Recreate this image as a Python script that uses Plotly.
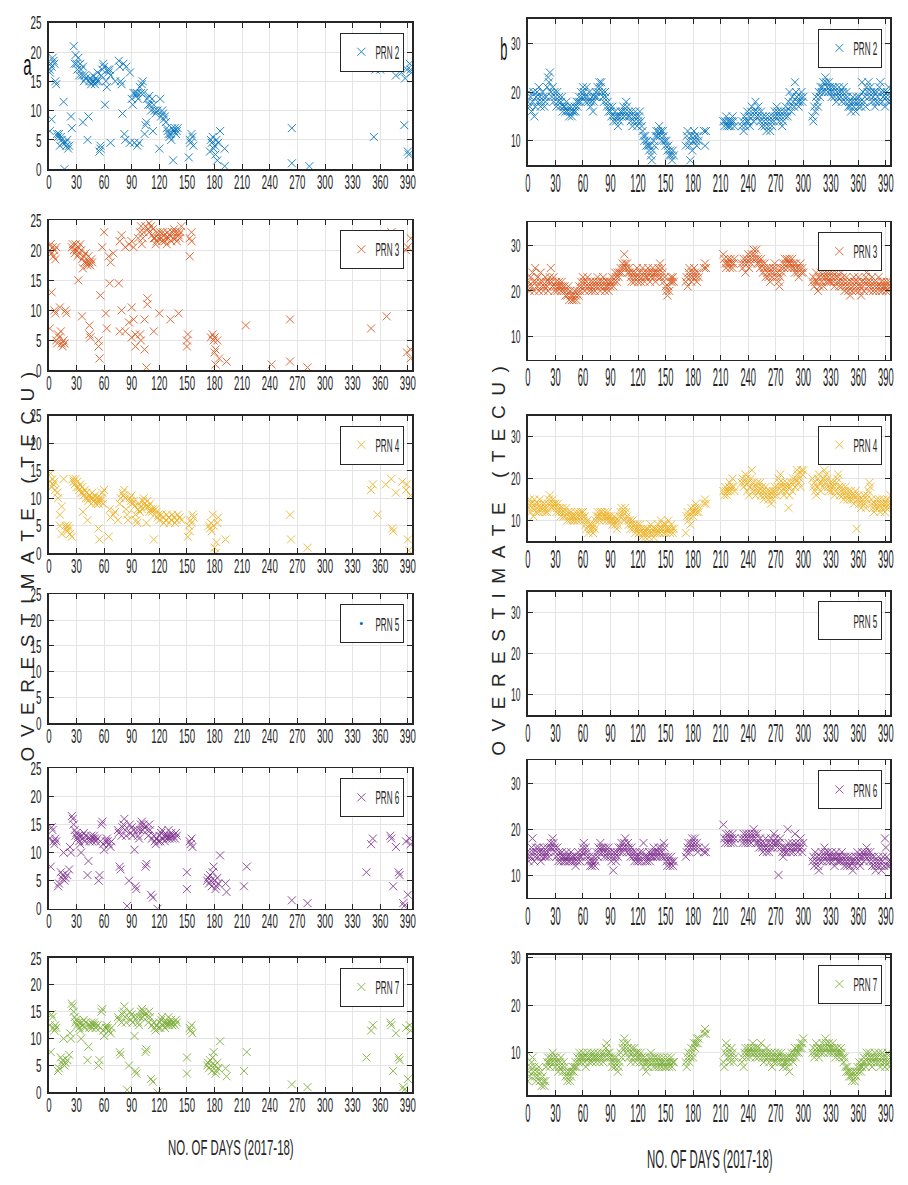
import json
import plotly.graph_objects as go

W, H = 908, 1185

# ---------------- labels / ticks ----------------
prn_names = ["PRN 2", "PRN 3", "PRN 4", "PRN 5", "PRN 6", "PRN 7"]
prn_colors = ["#0072BD", "#D95319", "#EDB120", "#0072BD", "#7E2F8E", "#77AC30"]
day_ticks = [0, 30, 60, 90, 120, 150, 180, 210, 240, 270, 300, 330, 360, 390]
a_y_ticks = [0, 5, 10, 15, 20, 25]
b_y_ticks = [10, 20, 30]
x_title = "NO. OF DAYS (2017-18)"
y_title = "OVERESTIMATE (TECU)"

# ---------------- panel a : (day, TECU) ----------------
a_prn2_pts = [
    (1, 17), (1, 16.5), (2, 18), (3, 17.5), (4, 19), (5, 18.5), (6, 18), (7, 15), (8, 14.5),
    (1, 6.5), (3, 8.5), (9, 6), (10, 5.5), (11, 6), (12, 4), (13, 5.5), (14, 5), (15, 4.5), (16, 11.5),
    (17, 0), (18, 4.5), (19, 4), (20, 5), (21, 3.5), (22, 4), (24, 9), (25, 7),
    (27, 21), (28, 18), (29, 19.5), (30, 18), (31, 17), (32, 19), (33, 16), (34, 18), (35, 17), (36, 16),
    (37, 17.5), (38, 15), (39, 16), (40, 15.5), (37, 8), (42, 5), (43, 9),
    (44, 15), (45, 15.5), (46, 14.5), (47, 15), (48, 16), (49, 15), (50, 14.5), (51, 15.5), (52, 15),
    (53, 16.5), (54, 15), (55, 3), (56, 4), (56, 3.5),
    (57, 16), (58, 17), (59, 18), (60, 17.5), (61, 11), (62, 15), (63, 14), (64, 17), (65, 16.5),
    (66, 17), (67, 16), (67, 4.5), (72, 15), (76, 18.5), (77, 17.5), (78, 15), (79, 14.5), (80, 9.5),
    (81, 18), (82, 6), (83, 5), (84, 17.5), (88, 16.5), (88, 4.5), (90, 12), (91, 11), (92, 13),
    (93, 4.5), (94, 13), (95, 12.5), (96, 4), (96, 13), (97, 12), (98, 4.5), (99, 14), (100, 13),
    (101, 14.5), (102, 15), (103, 13), (104, 6), (105, 7.5), (106, 8), (107, 12), (108, 11), (109, 12.5),
    (110, 11), (111, 10), (112, 12), (113, 6.5), (114, 11), (115, 10), (116, 9.5), (118, 10), (120, 3.5),
    (121, 12), (122, 9), (123, 10), (124, 9.5), (125, 8.5), (126, 9), (127, 8), (128, 7), (129, 6.5),
    (130, 6), (131, 5.5), (132, 6), (133, 5), (134, 7), (135, 1.5), (136, 6.5), (137, 7), (138, 6),
    (139, 6.5), (140, 7), (152, 2), (153, 5), (154, 4.5), (155, 6), (156, 5.5), (157, 4),
    (175, 3), (176, 5), (177, 4.5), (178, 5.5), (179, 3.5), (180, 4), (181, 2.5), (182, 5), (183, 1.5),
    (184, 4.5), (186, 6.5), (191, 3.5), (191, 0.5), (264, 7), (264, 1), (283, 0.5),
    (353, 5.5), (355, 17), (360, 17), (377, 16), (383, 16.5), (386, 7.5), (387, 15.5), (389, 17),
    (390, 3), (391, 2.5), (392, 18), (393, 17), (394, 16.5),
]

a_prn3_pts = [
    (1, 20), (2, 21), (3, 19.5), (4, 20.5), (5, 19), (6, 20), (7, 18.5), (8, 20.5),
    (1, 7), (3, 13), (6, 10), (7, 9.5), (8, 5), (9, 4.5), (10, 6), (11, 5.5), (12, 10.5), (13, 6.5),
    (14, 4.5), (15, 4), (16, 5), (17, 4.5), (18, 10), (19, 9.5),
    (25, 20.5), (26, 21), (27, 20), (28, 19.5), (29, 21), (30, 20), (31, 19), (32, 20.5), (33, 19.5),
    (34, 21), (35, 20), (36, 18.5), (37, 17), (38, 19), (39, 18), (40, 19.5), (41, 18), (42, 17.5),
    (43, 19), (44, 18), (45, 17.5), (46, 18.5), (47, 18),
    (32, 15), (36, 9), (44, 7.5), (44, 6), (45, 5.5), (54, 5), (54, 4), (55, 2), (56, 12.5),
    (58, 20.5), (60, 23), (62, 9.5), (63, 7), (65, 19), (66, 14.5), (67, 18), (70, 19.5), (76, 14.5),
    (77, 21.5), (77, 6.5), (79, 22.5), (79, 10), (83, 20.5), (83, 6.5), (87, 21), (87, 8), (90, 21.5),
    (90, 10.5), (90, 5.5), (92, 20.5), (92, 8.5), (94, 6), (94, 4), (97, 22), (99, 23), (99, 6),
    (100, 24), (100, 5), (101, 21), (102, 22), (103, 23), (104, 8.5), (104, 3.5), (105, 24), (106, 0.5),
    (107, 11), (107, 12), (108, 23.5), (109, 24.5), (109, 23), (111, 24), (112, 22.5), (113, 23.5),
    (114, 6.5), (114, 22), (115, 22), (116, 21), (117, 21.5), (118, 23), (119, 22), (120, 9.5),
    (121, 23), (122, 22), (123, 21.5), (124, 23), (125, 22.5), (126, 21.5), (127, 22), (128, 21),
    (129, 23), (130, 22), (131, 22.5), (132, 8.5), (133, 21.5), (134, 23), (135, 22), (136, 23.5),
    (137, 23), (138, 22), (139, 21.5), (140, 23), (141, 22.5), (141, 9.5), (142, 22), (143, 23), (144, 24),
    (150, 5), (150, 4), (151, 6), (153, 19), (153, 22), (155, 23), (155, 21.5),
    (176, 5.5), (178, 6), (179, 5), (180, 5.5), (180, 3), (181, 1), (181, 3.5), (183, 5), (185, 2),
    (193, 1.5), (214, 7.5), (242, 1), (262, 8.5), (262, 1.5), (281, 0.5), (350, 7), (367, 9), (372, 23),
    (388, 20), (390, 20.5), (393, 22), (393, 3.5), (393, 2), (389, 3),
]

a_prn4_pts = [
    (1, 13), (2, 14.5), (3, 12), (4, 13.5), (5, 12.5), (6, 13), (7, 11.5), (9, 11), (10, 10),
    (12, 7), (12, 5), (14, 8.5), (14, 3.5), (16, 13.5),
    (18, 5), (19, 4.5), (20, 4), (21, 5), (22, 4.5), (23, 3.5), (25, 3),
    (26, 13.5), (27, 13), (28, 12.5), (29, 13.5), (30, 12), (31, 13), (32, 12), (33, 11.5), (34, 12.5),
    (35, 11), (36, 12), (37, 11), (38, 10.5), (39, 11.5), (40, 10), (41, 11), (42, 10), (43, 9.5),
    (44, 10.5), (45, 10), (46, 9), (47, 11), (48, 10), (49, 9.5), (50, 10.5), (51, 9), (52, 10),
    (53, 9.5), (54, 9), (55, 10), (56, 9.5), (57, 10), (58, 11), (59, 9),
    (37, 7.5), (42, 6), (54, 4.5), (55, 2.5), (60, 11.5), (65, 3), (66, 8), (67, 6.5), (70, 7),
    (72, 7.5), (75, 6), (77, 9), (78, 10), (80, 11), (81, 10.5), (82, 11.5), (83, 10), (84, 8),
    (85, 7), (86, 6), (88, 10), (89, 9.5), (90, 10.5), (91, 9), (92, 9.5), (93, 8.5), (94, 7),
    (95, 6), (96, 5.5), (97, 8), (98, 9), (99, 7.5), (100, 8.5), (101, 8), (102, 9.5),
    (103, 10), (104, 9), (105, 8.5), (106, 5.5), (107, 9.5), (108, 8.5), (109, 7.5), (110, 9),
    (111, 8), (112, 7.5), (113, 8), (114, 2.5), (115, 7), (116, 8), (117, 7.5), (118, 6.5), (119, 7),
    (120, 6), (122, 7), (124, 6.5), (125, 5.5), (127, 6), (128, 7), (130, 6.5), (131, 5.5), (133, 6),
    (134, 7), (136, 6.5), (137, 5.5), (139, 6), (140, 7), (142, 6.5), (144, 6),
    (151, 3), (152, 5), (153, 4), (154, 6), (155, 5.5), (156, 7), (157, 6.5),
    (174, 5), (175, 4.5), (176, 5.5), (177, 4), (178, 7), (179, 5), (180, 1), (181, 0), (182, 2),
    (183, 5.5), (184, 6.5), (192, 2.5), (262, 7), (263, 2.5), (281, 1),
    (350, 11.5), (352, 12.5), (357, 7), (366, 12.5), (372, 13.5), (373, 4.5), (374, 4), (377, 11),
    (384, 13), (388, 11.5), (389, 12.5), (390, 2.5), (391, 0.5), (393, 10.5),
]

a_prn5_pts = []

a_prn6_pts = [
    (1, 12.5), (2, 7.5), (3, 14.5), (4, 14), (5, 12), (6, 11.5), (7, 12.5), (8, 12), (10, 4), (11, 4.5),
    (13, 6.5), (14, 5.5), (15, 6), (16, 10), (17, 5), (18, 5.5), (20, 6), (22, 7), (23, 11), (24, 10),
    (25, 16.5), (26, 16), (27, 15), (28, 14), (29, 13), (30, 13.5), (31, 12.5), (32, 13), (33, 12),
    (34, 11.5), (35, 10), (36, 13), (37, 12.5), (38, 13.5), (39, 12), (40, 13), (42, 6), (43, 8.5),
    (44, 12), (45, 12.5), (46, 13), (47, 12), (48, 12.5), (49, 13), (50, 12.5), (51, 12), (53, 12.5),
    (54, 5), (55, 6), (56, 12), (57, 15), (58, 15.5), (59, 11.5), (60, 10.5), (62, 12), (63, 12.5),
    (64, 12), (65, 11.5), (67, 11), (68, 12),
    (75, 14), (76, 13.5), (77, 7.5), (78, 7), (79, 13), (80, 14.5), (81, 15), (82, 16), (83, 14),
    (84, 13), (85, 0.5), (87, 5), (88, 15), (89, 13.5), (90, 14.5), (91, 13), (92, 14), (93, 10.5),
    (94, 4), (95, 3.5), (96, 14), (97, 13), (98, 12.5), (99, 14), (100, 15), (101, 15.5), (102, 14),
    (103, 15), (104, 14.5), (105, 7.5), (106, 8), (107, 14), (108, 13), (109, 15), (110, 14), (111, 2.5),
    (112, 12.5), (113, 2), (114, 13), (115, 12), (116, 11.5), (117, 12.5), (118, 0), (119, 12), (120, 13),
    (121, 12), (122, 13.5), (123, 14), (124, 12.5), (125, 13), (126, 12), (127, 13), (128, 12.5),
    (129, 13), (130, 14), (131, 12.5), (132, 13), (133, 13.5), (134, 12.5), (135, 13), (137, 12.5),
    (138, 13.5), (139, 13),
    (150, 6.5), (150, 3.5), (153, 12), (154, 11.5), (155, 12.5), (156, 11),
    (172, 5), (173, 5.5), (174, 4.5), (175, 6), (176, 5), (177, 4), (178, 6.5), (179, 7.5), (180, 5),
    (181, 3.5), (182, 4), (183, 5.5), (184, 4.5), (186, 9.5), (192, 4.5), (193, 3), (212, 4), (215, 7.5),
    (264, 1.5), (281, 1), (345, 6.5), (350, 11.5), (352, 12.5), (371, 13), (372, 12.5), (374, 4),
    (377, 11), (380, 6.5), (381, 6), (385, 1), (386, 0.5), (388, 12), (390, 2.5), (392, 12.5), (393, 11.5),
]

# PRN 7 in panel a is drawn with the same values as PRN 6 in the source figure
a_prn7_pts = list(a_prn6_pts)

# ---------------- panel b : daily values per observing segment ----------------
b_seg_start = [0, 172, 192, 213, 233, 310]

b_prn2 = [
    [18, 20, 17, 19, 16, 18, 20, 15, 17, 19,
     20, 18, 21, 19, 17, 18, 20, 19, 17, 18,
     19, 21, 23, 22, 24, 20, 19, 21, 18, 20,
     19, 17, 20, 18, 19, 17, 18, 19, 16, 17,
     17, 16, 18, 16, 17, 15, 16, 17, 15, 16,
     16, 17, 16, 18, 17, 18, 19, 18, 20, 19,
     21, 20, 19, 18, 21, 19, 18, 20, 17, 18,
     19, 16, 18, 19, 20, 19, 21, 20, 22, 21,
     22, 20, 19, 18, 20, 19, 17, 18, 16, 17,
     16, 15, 17, 14, 15, 16, 14, 15, 13, 15,
     14, 16, 15, 16, 17, 15, 16, 18, 17, 15,
     16, 15, 14, 16, 13, 15, 14, 16, 15, 13,
     14, 15, 16, 14, 13, 12, 11, 10, 11, 9,
     10, 9, 8, 9, 7, 6, 8, 10, 9, 11,
     12, 11, 12, 13, 11, 12, 10, 12, 11, 10,
     9, 10, 8, 9, 7, 8, 7, 6, 8, 7],
    [9, 11, 12, 10, 9, 6, 11, 8, 10, 12, 11, 10, 9, 11, 10],
    [12, 9, 12],
    [14, 13, 14, 15, 13, 14, 13, 14, 13, 14, 15, 14, 13],
    [13, 14, 12, 15, 13, 14, 16, 14,
     15, 13, 16, 17, 15, 14, 16, 18, 15, 16,
     17, 15, 14, 16, 13, 15, 14, 13, 15, 12,
     14, 13, 15, 12, 14, 13, 15, 14, 16, 15,
     17, 16, 15, 14, 16, 15, 13, 14, 16, 15,
     17, 16, 15, 18, 20, 17, 16, 19, 18, 17,
     22, 20, 19, 18, 17, 18, 19, 20, 18, 19],
    [15, 14, 17, 16, 19, 18, 17, 20, 19, 21,
     20, 21, 22, 20, 23, 22, 21, 20, 22, 21,
     20, 19, 21, 20, 19, 21, 18, 20, 19, 21,
     20, 19, 18, 20, 21, 19, 18, 20, 19, 17,
     18, 17, 16, 18, 19, 17, 18, 16, 19, 18,
     17, 19, 18, 17, 22, 20, 18, 19, 17, 21,
     20, 22, 19, 21, 20, 18, 19, 20, 17, 18,
     20, 19, 18, 21, 22, 20, 18, 19, 20, 17,
     19, 20, 18, 21, 19, 18],
]

b_prn3 = [
    [21, 22, 20, 23, 21, 24, 22, 20, 25, 22,
     21, 23, 20, 22, 24, 21, 22, 20, 21, 23,
     22, 21, 20, 22, 23, 25, 22, 21, 23, 20,
     21, 22, 20, 21, 22, 21, 20, 22, 21, 20,
     21, 19, 20, 19, 21, 18, 20, 19, 18, 19,
     18, 20, 19, 18, 20, 19, 21, 20, 22, 21,
     23, 22, 20, 21, 22, 23, 21, 20, 22, 21,
     20, 22, 21, 20, 22, 21, 23, 22, 21, 20,
     22, 21, 23, 22, 20, 21, 22, 21, 20, 22,
     21, 22, 23, 21, 22, 24, 23, 22, 24, 23,
     24, 25, 24, 26, 25, 28, 26, 25, 26, 24,
     25, 24, 23, 22, 24, 23, 22, 24, 23, 25,
     22, 23, 24, 22, 23, 25, 24, 22, 23, 24,
     23, 25, 24, 22, 23, 24, 25, 23, 24, 22,
     24, 23, 25, 24, 26, 23, 25, 24, 22, 23,
     21, 20, 19, 21, 20, 22, 23, 22, 23, 22],
    [22, 23, 21, 24, 25, 23, 22, 24, 23, 25, 24, 23, 22, 24, 23],
    [25, 26, 25],
    [28, 27, 26, 25, 26, 27, 26, 25, 27, 26, 25, 26, 27],
    [26, 25, 27, 26, 24, 27, 26, 28,
     25, 27, 26, 28, 27, 29, 28, 27, 29, 26,
     27, 26, 25, 27, 26, 24, 25, 26, 23, 25,
     24, 23, 25, 22, 24, 23, 25, 24, 26, 25,
     23, 24, 22, 21, 23, 25, 24, 26, 25, 27,
     26, 27, 25, 26, 27, 26, 25, 27, 26, 25,
     24, 26, 25, 24, 23, 25, 26, 24, 25, 24],
    [22, 23, 21, 22, 24, 22, 20, 23, 21, 24,
     22, 23, 21, 24, 23, 22, 24, 23, 22, 24,
     22, 23, 24, 22, 21, 23, 24, 22, 23, 21,
     22, 24, 21, 23, 22, 20, 21, 23, 22, 20,
     21, 19, 22, 20, 21, 23, 22, 20, 21, 22,
     23, 20, 21, 19, 22, 21, 20, 22, 23, 24,
     22, 21, 20, 22, 21, 23, 20, 22, 21, 20,
     22, 21, 23, 20, 21, 22, 20, 21, 22, 21,
     20, 22, 21, 20, 22, 21],
]

b_prn4 = [
    [14, 13, 15, 12, 14, 13, 11, 15, 14, 12,
     13, 14, 12, 15, 13, 14, 12, 13, 14, 12,
     13, 12, 14, 15, 16, 14, 13, 15, 14, 13,
     14, 12, 13, 14, 12, 13, 11, 12, 13, 11,
     12, 11, 13, 10, 12, 11, 10, 12, 11, 10,
     11, 10, 12, 11, 10, 12, 11, 10, 12, 11,
     12, 10, 11, 9, 8, 10, 7, 9, 8, 9,
     8, 7, 9, 8, 10, 11, 12, 11, 10, 12,
     11, 12, 10, 11, 12, 11, 10, 12, 11, 10,
     11, 10, 9, 10, 11, 9, 10, 8, 9, 10,
     11, 12, 13, 11, 12, 10, 13, 12, 11, 10,
     9, 10, 8, 9, 10, 8, 9, 7, 8, 9,
     8, 7, 9, 8, 6, 7, 8, 7, 6, 8,
     7, 8, 6, 7, 9, 8, 7, 6, 8, 7,
     8, 7, 9, 8, 7, 10, 8, 9, 7, 8,
     9, 7, 8, 10, 8, 7, 9, 8, 7, 8],
    [7, 11, 12, 10, 11, 9, 13, 12, 11, 12, 13, 14, 12, 13, 12],
    [14, 15, 14],
    [17, 16, 18, 17, 16, 17, 18, 19, 17, 18, 20, 18, 17],
    [19, 20, 18, 19, 21, 20, 17, 19,
     16, 18, 20, 22, 19, 17, 18, 16, 17, 19,
     18, 17, 19, 16, 18, 17, 15, 16, 18, 17,
     16, 15, 17, 16, 14, 15, 17, 16, 18, 17,
     16, 18, 20, 19, 21, 18, 17, 19, 16, 18,
     17, 19, 18, 13, 16, 18, 19, 17, 20, 19,
     18, 20, 22, 21, 19, 20, 18, 22, 21, 22],
    [20, 18, 19, 17, 16, 18, 20, 21, 19, 17,
     19, 18, 20, 22, 19, 21, 20, 18, 17, 19,
     18, 17, 19, 18, 16, 17, 19, 20, 21, 18,
     16, 17, 18, 16, 15, 17, 18, 16, 15, 17,
     16, 15, 17, 16, 15, 14, 16, 17, 8, 15,
     16, 14, 15, 13, 14, 15, 16, 14, 13, 15,
     16, 17, 19, 18, 15, 14, 13, 12, 14, 13,
     15, 14, 13, 15, 12, 14, 13, 15, 14, 12,
     13, 14, 15, 13, 14, 16],
]

b_prn5 = [[], [], [], [], [], []]

b_prn6 = [
    [14, 13, 15, 14, 16, 18, 15, 13, 14, 16,
     15, 14, 16, 15, 13, 14, 15, 16, 14, 15,
     14, 16, 15, 14, 16, 17, 16, 18, 17, 16,
     15, 14, 16, 13, 15, 14, 13, 15, 14, 13,
     14, 13, 15, 14, 13, 14, 13, 15, 14, 13,
     14, 13, 12, 14, 13, 15, 14, 13, 14, 15,
     16, 17, 15, 16, 14, 15, 13, 14, 12, 13,
     12, 13, 14, 12, 13, 15, 14, 16, 15, 17,
     16, 15, 16, 14, 15, 16, 14, 15, 16, 14,
     15, 13, 14, 11, 15, 14, 13, 15, 14, 16,
     15, 16, 17, 15, 16, 17, 18, 16, 15, 17,
     16, 15, 14, 16, 15, 14, 13, 15, 14, 13,
     14, 13, 15, 14, 13, 15, 17, 14, 13, 14,
     13, 14, 15, 13, 14, 15, 14, 16, 15, 14,
     15, 14, 16, 15, 14, 16, 15, 14, 17, 16,
     14, 13, 12, 14, 13, 12, 14, 13, 12, 13],
    [14, 15, 16, 17, 15, 16, 17, 18, 16, 17, 18, 16, 17, 15, 16],
    [15, 16, 15],
    [21, 18, 17, 19, 18, 17, 19, 18, 17, 18, 19, 17, 18],
    [18, 17, 19, 18, 17, 19, 18, 17,
     19, 18, 17, 19, 18, 20, 19, 18, 17, 19,
     17, 16, 18, 17, 16, 15, 17, 16, 18, 15,
     16, 17, 15, 16, 18, 17, 16, 19, 17, 18,
     17, 16, 10, 17, 18, 16, 15, 14, 16, 15,
     16, 15, 20, 17, 16, 15, 16, 17, 15, 16,
     19, 17, 16, 15, 16, 17, 18, 16, 15, 17],
    [13, 14, 12, 15, 13, 14, 12, 11, 13, 14,
     15, 13, 14, 16, 15, 14, 13, 15, 14, 13,
     14, 15, 13, 14, 12, 14, 15, 13, 14, 13,
     14, 13, 15, 14, 13, 12, 14, 13, 12, 14,
     13, 12, 14, 13, 11, 13, 12, 14, 13, 15,
     14, 13, 12, 14, 15, 14, 13, 15, 14, 16,
     15, 14, 13, 15, 14, 12, 13, 14, 12, 11,
     13, 12, 14, 13, 12, 11, 13, 14, 12, 18,
     16, 14, 12, 13, 12, 13],
]

b_prn7 = [
    [4, 6, 5, 7, 8, 9, 6, 7, 5, 4,
     6, 5, 7, 4, 6, 3, 5, 4, 3, 4,
     7, 8, 9, 8, 7, 9, 8, 10, 9, 8,
     7, 9, 8, 6, 7, 8, 9, 7, 6, 8,
     7, 5, 6, 4, 5, 6, 4, 5, 6, 7,
     6, 7, 8, 7, 9, 8, 10, 9, 8, 9,
     10, 9, 8, 7, 9, 10, 9, 8, 9, 10,
     8, 9, 10, 9, 8, 9, 10, 9, 8, 9,
     10, 9, 8, 10, 9, 11, 12, 10, 9, 10,
     9, 8, 7, 9, 8, 7, 9, 8, 6, 7,
     8, 10, 9, 11, 12, 13, 11, 10, 12, 11,
     9, 10, 8, 11, 10, 9, 11, 8, 10, 9,
     10, 9, 8, 10, 9, 8, 7, 9, 8, 6,
     8, 7, 9, 8, 10, 9, 8, 7, 9, 8,
     7, 9, 8, 7, 9, 8, 7, 8, 9, 7,
     8, 7, 9, 8, 7, 8, 9, 7, 8, 8],
    [8, 7, 9, 10, 8, 9, 11, 10, 9, 12, 11, 12, 13, 12, 13],
    [14, 15, 14],
    [8, 7, 10, 12, 11, 9, 10, 8, 9, 11, 10, 8, 9],
    [8, 9, 7, 10, 11, 9, 10, 11,
     10, 9, 11, 10, 12, 11, 10, 9, 11, 10,
     9, 11, 10, 12, 9, 10, 8, 9, 10, 11,
     9, 10, 8, 9, 10, 7, 9, 8, 10, 9,
     8, 9, 10, 9, 8, 10, 9, 7, 8, 9,
     8, 7, 9, 8, 6, 9, 10, 9, 8, 10,
     11, 9, 10, 11, 10, 11, 12, 11, 12, 13],
    [10, 11, 9, 10, 12, 11, 10, 9, 11, 10,
     11, 12, 10, 11, 13, 12, 11, 10, 12, 11,
     10, 11, 12, 10, 11, 9, 10, 11, 10, 9,
     10, 11, 10, 9, 8, 9, 7, 6, 7, 6,
     5, 6, 5, 4, 6, 5, 4, 6, 5, 7,
     6, 8, 7, 6, 7, 8, 9, 8, 7, 10,
     9, 8, 10, 9, 8, 7, 9, 8, 10, 9,
     8, 9, 10, 8, 7, 9, 10, 8, 9, 7,
     8, 9, 10, 8, 7, 9],
]

a_series = [a_prn2_pts, a_prn3_pts, a_prn4_pts, a_prn5_pts, a_prn6_pts, a_prn7_pts]
b_series = [b_prn2, b_prn3, b_prn4, b_prn5, b_prn6, b_prn7]


def expand_segments(segments):
    xs, ys = [], []
    for start, vals in zip(b_seg_start, segments):
        for k, v in enumerate(vals):
            xs.append(start + k)
            ys.append(v)
    return xs, ys


# ---------------- layout geometry (pixels) ----------------
rows_a = [(13, 162), (214, 367), (413, 553), (595, 726), (772, 915), (965, 1102)]
rows_b = [(9, 158), (216, 356), (413, 541), (592, 718), (764, 904), (962, 1105)]
xdom_a = (43, 416)
xdom_b = (535, 907)
b_ranges = [[5, 35]] * 5 + [[1, 30.6]]

FONT = "Liberation Sans, Arial, sans-serif"
AX_COL = "#262626"
GRID = "#E4E4E4"

layout = dict(
    width=W, height=H, autosize=False,
    margin=dict(l=0, r=0, t=0, b=0),
    paper_bgcolor="white", plot_bgcolor="white",
    font=dict(family=FONT, color=AX_COL),
    showlegend=True,
)

traces = []
for side in ("a", "b"):
    rows = rows_a if side == "a" else rows_b
    xd = xdom_a if side == "a" else xdom_b
    for r in range(6):
        n = (0 if side == "a" else 6) + r + 1
        sfx = "" if n == 1 else str(n)
        top, bot = rows[r]
        if side == "a":
            yrange = [0, 25]
            ytv = a_y_ticks
            xfs, xstand = 21, -7
        else:
            yrange = b_ranges[r]
            ytv = b_y_ticks
            xfs, xstand = 26, -6
        layout["xaxis" + sfx] = dict(
            domain=[xd[0] / W, xd[1] / W], range=[0, 394.5], anchor="y" + sfx,
            tickmode="array", tickvals=day_ticks, ticktext=[str(v) for v in day_ticks],
            tickangle=0, ticklabeloverflow="allow",
            ticks="inside", ticklen=5, tickcolor=AX_COL, tickwidth=1,
            showline=True, linecolor=AX_COL, linewidth=1.5, mirror="ticks",
            showgrid=True, gridcolor=GRID, gridwidth=1, zeroline=False,
            tickfont=dict(size=xfs, family=FONT, color=AX_COL),
            ticklabelstandoff=xstand, fixedrange=True,
        )
        layout["yaxis" + sfx] = dict(
            domain=[1 - bot / H, 1 - top / H], range=yrange, anchor="x" + sfx,
            tickmode="array", tickvals=ytv, ticktext=[str(v) for v in ytv],
            tickangle=0, ticklabeloverflow="allow",
            ticks="inside", ticklen=5, tickcolor=AX_COL, tickwidth=1,
            showline=True, linecolor=AX_COL, linewidth=1.5, mirror="ticks",
            showgrid=True, gridcolor=GRID, gridwidth=1, zeroline=False,
            tickfont=dict(size=19, family=FONT, color=AX_COL),
            ticklabelstandoff=2, fixedrange=True,
        )
        leg_right = 408 if side == "a" else 899
        layout["legend" + sfx] = dict(
            x=leg_right / W, y=1 - (top + 10) / H, xanchor="right", yanchor="top",
            bgcolor="white", bordercolor=AX_COL, borderwidth=1,
            font=dict(size=18, family=FONT, color=AX_COL),
            itemwidth=30, itemclick=False, itemdoubleclick=False,
        )

        name = prn_names[r]
        color = prn_colors[r]
        if side == "a":
            pts = a_series[r]
            xs = [p[0] for p in pts]
            ys = [p[1] for p in pts]
        else:
            xs, ys = expand_segments(b_series[r])
        if name == "PRN 5":
            xs, ys = [None], [None]
            if side == "a":
                marker = dict(symbol="circle", size=3, color=color)
            else:
                marker = dict(symbol="circle", size=3, color="rgba(0,0,0,0)")
        else:
            marker = dict(symbol="x-thin", size=8, color=color,
                          line=dict(width=1, color=color), opacity=0.85)
        traces.append(go.Scatter(
            x=xs, y=ys, mode="markers", name=name, marker=marker,
            xaxis="x" + sfx, yaxis="y" + sfx, legend="legend" + sfx,
            showlegend=True, hoverinfo="skip",
        ))

spaced_title = "\u2002".join(list(y_title))
annotations = [
    dict(text="a", x=21 / W, y=1 - 55 / H, xref="paper", yref="paper", showarrow=False,
         xanchor="center", yanchor="middle", font=dict(size=30, family=FONT, color="#111")),
    dict(text="b", x=510 / W, y=1 - 40 / H, xref="paper", yref="paper", showarrow=False,
         xanchor="center", yanchor="middle", font=dict(size=32, family=FONT, color="#111")),
    dict(text=x_title, x=230 / W, y=1 - 1158 / H, xref="paper", yref="paper", showarrow=False,
         xanchor="center", yanchor="middle", font=dict(size=22, family=FONT, color=AX_COL)),
    dict(text=x_title, x=722 / W, y=1 - 1170 / H, xref="paper", yref="paper", showarrow=False,
         xanchor="center", yanchor="middle", font=dict(size=26, family=FONT, color=AX_COL)),
    dict(text=spaced_title, x=22 / W, y=1 - 566 / H, xref="paper", yref="paper", showarrow=False,
         textangle=-90, xanchor="center", yanchor="middle",
         font=dict(size=19, family=FONT, color=AX_COL)),
    dict(text=spaced_title, x=504 / W, y=1 - 561 / H, xref="paper", yref="paper", showarrow=False,
         textangle=-90, xanchor="center", yanchor="middle",
         font=dict(size=19, family=FONT, color=AX_COL)),
]
layout["annotations"] = annotations

fig = go.Figure(data=traces, layout=layout)

# horizontal condensing of the (narrow, tall) lettering of the original figure
factors = {
    "lx": 0.46, "rx": 0.36, "ly": 0.52, "ry": 0.45,
    "ann": {"0": 0.5, "1": 0.4, "2": 0.52, "3": 0.44},
    "leg": 0.45, "legtx": 34, "legpad": 5,
}
post_js = """
(function(){
var gd = document.getElementById('{plot_id}');
var F = __F__;
function sq(t, f){
  var key = t.textContent + '|' + f;
  if (t.getAttribute('data-sq') === key && t.getAttribute('textLength')) {
    return parseFloat(t.getAttribute('data-w'));
  }
  t.removeAttribute('textLength'); t.removeAttribute('lengthAdjust');
  var w = t.getComputedTextLength();
  if (w > 0) {
    t.setAttribute('textLength', (w*f).toFixed(2));
    t.setAttribute('lengthAdjust', 'spacingAndGlyphs');
    t.setAttribute('data-sq', key); t.setAttribute('data-w', w);
  }
  return w;
}
function apply(){
  var gs = gd.querySelectorAll('g');
  Array.prototype.forEach.call(gs, function(g){
    try {
      var cls = g.getAttribute('class') || '';
      var m = cls.match(/^([xy])(\\d*)tick$/);
      if (!m) return;
      var n = m[2] ? parseInt(m[2], 10) : 1;
      var s = (n <= 6 ? 'l' : 'r') + m[1];
      var t = g.querySelector('text');
      if (t) sq(t, F[s]);
    } catch(e) {}
  });
  gd.querySelectorAll('g.annotation').forEach(function(g){
    try {
      var k = g.getAttribute('data-index');
      var t = g.querySelector('.annotation-text');
      if (t && F.ann[k] !== undefined) sq(t, F.ann[k]);
    } catch(e) {}
  });
  gd.querySelectorAll('rect.bg').forEach(function(bg){
    try {
      var lg = bg.parentNode;
      var cls = lg.getAttribute('class') || '';
      if (!/^legend\\d*$/.test(cls)) return;
      var txt = lg.querySelector('text.' + cls + 'text') || lg.querySelector('text.legendtext');
      if (!txt) return;
      var w0 = parseFloat(bg.getAttribute('width'));
      if (bg.getAttribute('data-w1') && Math.abs(parseFloat(bg.getAttribute('data-w1')) - w0) < 0.2) return;
      var tw = sq(txt, F.leg);
      txt.setAttribute('x', F.legtx);
      var w1 = F.legtx + tw * F.leg + F.legpad;
      if (!(w1 > 0) || !(w0 > w1)) return;
      bg.setAttribute('width', w1.toFixed(1));
      bg.setAttribute('data-w1', w1.toFixed(1));
      var tr = lg.getAttribute('transform') || '';
      var mm = tr.match(/translate\\(\\s*([-\\d.e]+)[ ,]+([-\\d.e]+)\\s*\\)/);
      if (mm) lg.setAttribute('transform', 'translate(' + (parseFloat(mm[1]) + w0 - w1).toFixed(1) + ',' + mm[2] + ')');
    } catch(e) {}
  });
}
apply();
if (gd.on) gd.on('plotly_afterplot', apply);
[0, 50, 200, 600, 1500].forEach(function(d){ setTimeout(apply, d); });
})();
""".replace("__F__", json.dumps(factors))

fig.write_html("out.html", include_plotlyjs=True, full_html=True,
               config={"displayModeBar": False, "staticPlot": True},
               post_script=post_js)
